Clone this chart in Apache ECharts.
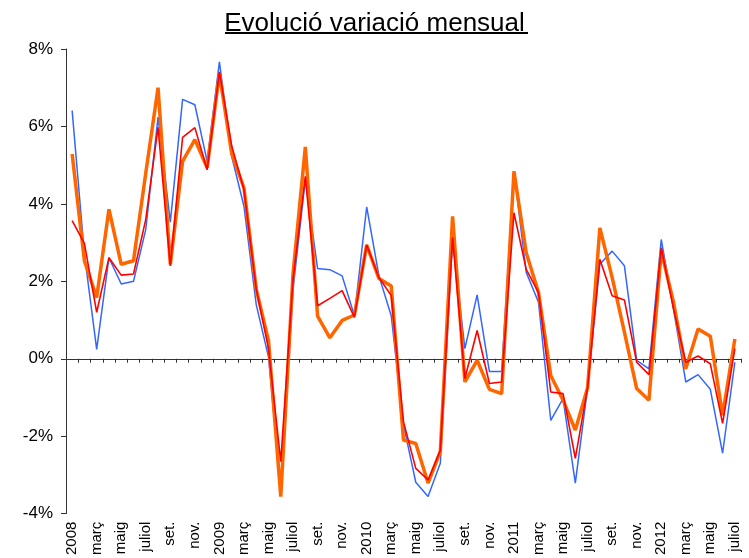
<!DOCTYPE html>
<html>
<head>
<meta charset="utf-8">
<script src="https://cdn.jsdelivr.net/npm/echarts@6/dist/echarts.min.js"></script>
<style>
  html, body { margin: 0; padding: 0; background: #fff; }
  #chart { width: 749px; height: 558px; }
</style>
</head>
<body>
<div id="chart"></div>
<script>
const years = ["2008", "2009", "2010", "2011", "2012"];
const monthNames = ["gen.", "feb.", "març", "abr.", "maig", "juny", "juliol", "ag.", "set.", "oct.", "nov.", "des."];
// Jan 2008 .. Jul 2012, January shows the year
const categories = [];
years.forEach((year) => {
  monthNames.forEach((name, m) => categories.push(m === 0 ? year : name));
});
categories.length = 55;

const blueValues = [
  6.41, 2.7, 0.24, 2.61, 1.93, 2.0, 3.34, 6.24, 3.53, 6.7, 6.56, 5.1,
  7.67, 5.23, 3.94, 1.4, 0.05, -3.38, 1.8, 4.63, 2.33, 2.3, 2.14, 1.11,
  3.92, 2.14, 1.11, -1.71, -3.19, -3.56, -2.7, 3.08, 0.26, 1.65, -0.33, -0.33,
  4.84, 2.23, 1.46, -1.59, -1.03, -3.21, -0.75, 2.44, 2.78, 2.4, -0.04, -0.26,
  3.08, 1.29, -0.6, -0.41, -0.79, -2.44, -0.09,
];
const redValues = [
  3.57, 2.98, 1.2, 2.61, 2.16, 2.19, 3.6, 5.98, 2.4, 5.72, 5.97, 4.88,
  7.41, 5.5, 4.37, 1.8, 0.26, -2.66, 2.05, 4.71, 1.37, 1.56, 1.76, 1.07,
  2.94, 2.1, 1.63, -1.63, -2.83, -3.13, -2.36, 3.13, -0.51, 0.73, -0.64, -0.6,
  3.77, 2.31, 1.71, -0.86, -0.9, -2.57, -0.75, 2.57, 1.63, 1.52, -0.09, -0.41,
  2.87, 1.29, -0.09, 0.07, -0.13, -1.67, 0.26,
];
const orangeValues = [
  5.29, 2.53, 1.58, 3.86, 2.44, 2.53, 4.8, 7.0, 2.44, 5.1, 5.66, 4.93,
  7.37, 5.3, 4.41, 1.8, 0.47, -3.56, 2.2, 5.47, 1.1, 0.54, 0.99, 1.13,
  2.94, 2.07, 1.88, -2.1, -2.19, -3.21, -2.4, 3.68, -0.6, -0.04, -0.79, -0.9,
  4.84, 2.74, 1.71, -0.43, -1.07, -1.84, -0.75, 3.38, 2.1, 0.69, -0.77, -1.07,
  2.78, 1.46, -0.26, 0.77, 0.58, -1.46, 0.51,
];

const yTicks = { min: -4, max: 8, interval: 2 };
const titleText = "Evolució variació mensual";

const chart = echarts.init(document.getElementById("chart"));
const font = "'Liberation Sans', Arial, sans-serif";

chart.setOption({
  animation: false,
  backgroundColor: "#fff",
  title: {
    text: titleText,
    left: "center",
    top: 6,
    textStyle: { fontFamily: font, fontSize: 26, fontWeight: "normal", color: "#000" },
  },
  graphic: [
    {
      type: "line",
      shape: { x1: 225, y1: 33, x2: 528, y2: 33 },
      style: { stroke: "#000", lineWidth: 2 },
    },
  ],
  grid: { left: 66, right: 8, top: 49, bottom: 43 },
  xAxis: [
    {
      type: "category",
      data: categories,
      boundaryGap: true,
      axisLine: { onZero: true, lineStyle: { color: "#333", width: 1 } },
      axisTick: { show: true, interval: 0, length: 4, lineStyle: { color: "#333" } },
      axisLabel: { show: false },
      splitLine: { show: false },
    },
    {
      type: "category",
      data: categories,
      boundaryGap: true,
      position: "bottom",
      axisLine: { show: false, onZero: false },
      axisTick: { show: false },
      axisLabel: {
        interval: 1,
        rotate: 90,
        margin: 8,
        fontFamily: font,
        fontSize: 15,
        color: "#000",
      },
      splitLine: { show: false },
    },
  ],
  yAxis: {
    type: "value",
    min: yTicks.min,
    max: yTicks.max,
    interval: yTicks.interval,
    axisLine: { show: true, lineStyle: { color: "#333" } },
    axisTick: { show: true, length: 5, lineStyle: { color: "#333" } },
    axisLabel: {
      formatter: (v) => `${v}%`,
      fontFamily: font,
      fontSize: 17,
      color: "#000",
      margin: 13,
    },
    splitLine: { show: false },
  },
  series: [
    {
      type: "line",
      data: blueValues,
      symbol: "none",
      lineStyle: { color: "#3366ff", width: 1.5 },
      z: 2,
    },
    {
      type: "line",
      data: orangeValues,
      symbol: "none",
      lineStyle: { color: "#ff6600", width: 3.5 },
      z: 3,
    },
    {
      type: "line",
      data: redValues,
      symbol: "none",
      lineStyle: { color: "#ff0000", width: 1.6 },
      z: 4,
    },
  ],
});
</script>
</body>
</html>
